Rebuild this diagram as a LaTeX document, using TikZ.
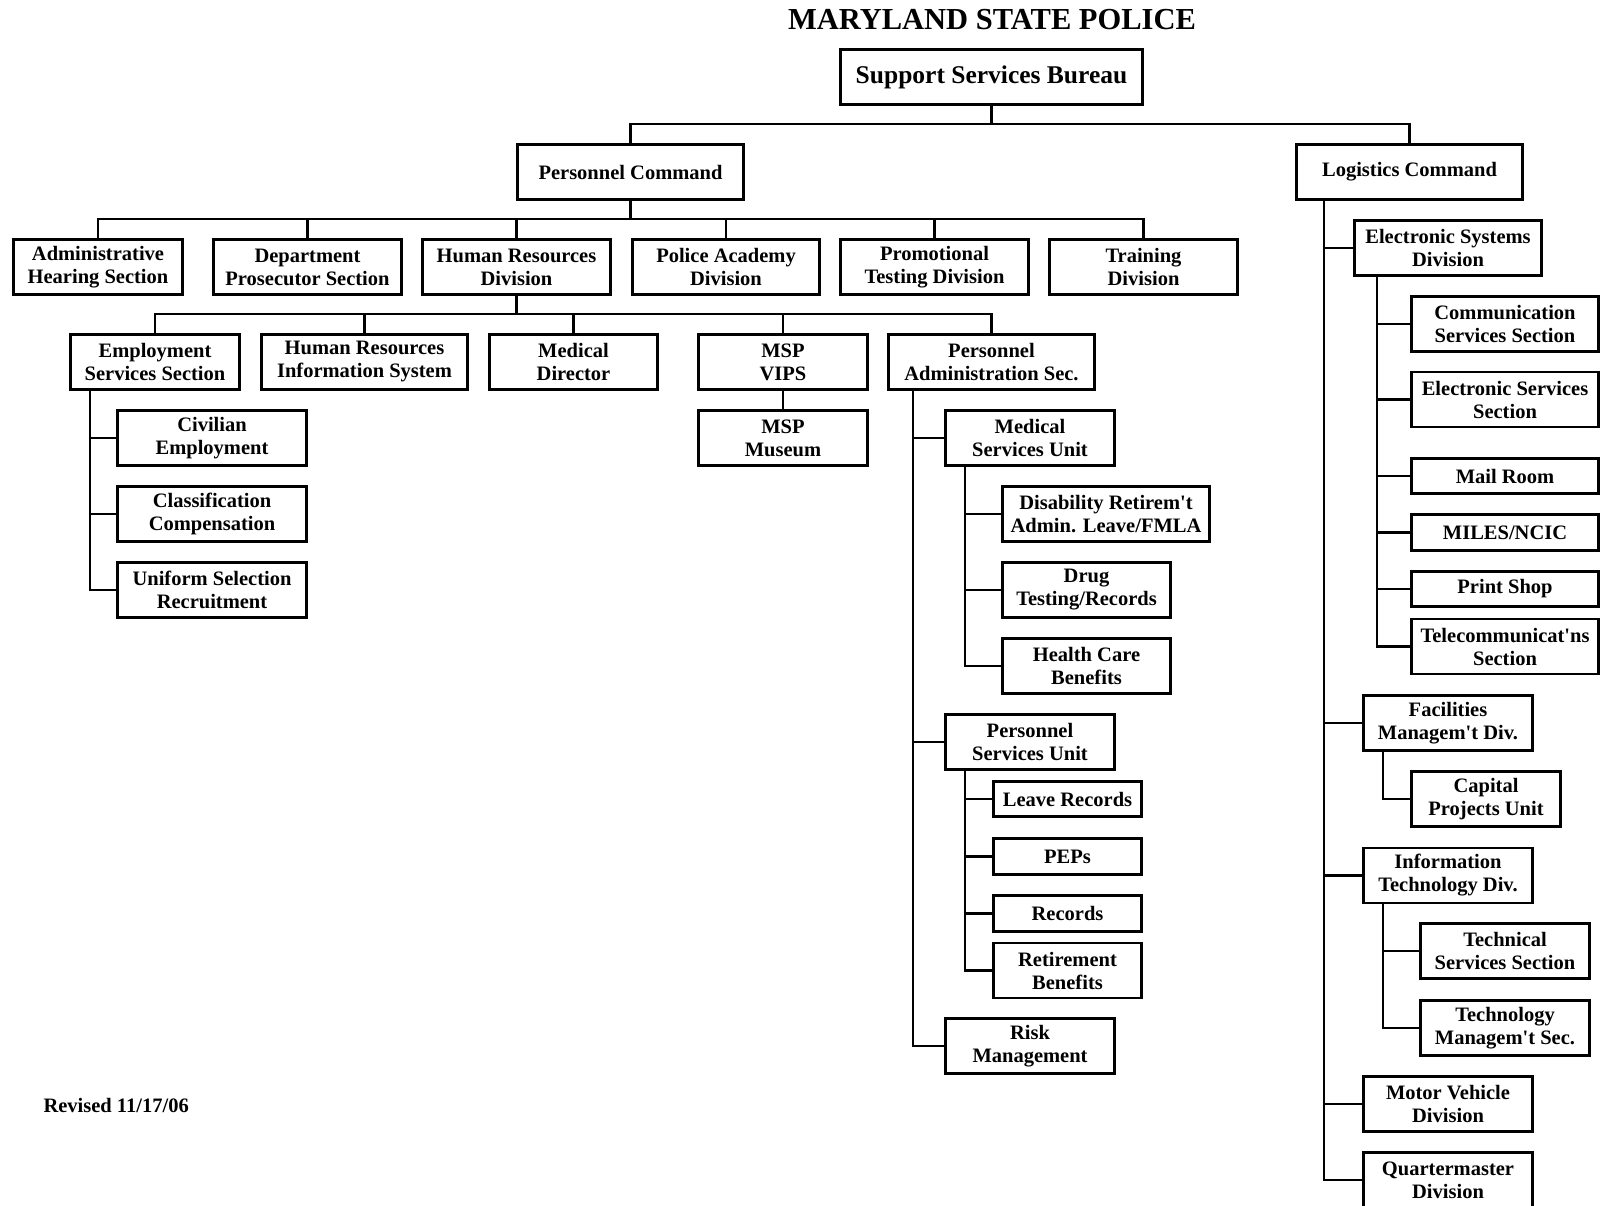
\documentclass[tikz,border=0pt]{standalone}
\usepackage{fontspec}
\setmainfont{Liberation Serif}[Ligatures=TeXOff]
\begin{document}
\begin{tikzpicture}[x=1pt,y=-1pt,
  box/.style={draw,line width=2.6pt,minimum height=55,inner sep=0pt,align=center,font=\bfseries\fontsize{20.5}{23}\selectfont},
  link/.style={line width=2.8pt}]
\useasboundingbox (0,0) rectangle (1601,1206);

\node (title) at (992,20) {\fontsize{30.5}{34}\selectfont\bfseries MARYLAND STATE POLICE};
\node[box,minimum width=302,font=\bfseries\fontsize{25.5}{28}\selectfont] (ssb) at (991.5,77) {Support Services Bureau};

\node[box,minimum width=226] (pc) at (630.5,172) {Personnel Command};
\node[box,minimum width=226] (lc) at (1409.5,172) {Logistics Command};

\node[box,minimum width=169] (ahs) at (98,267) {Administrative\\Hearing Section};
\node[box,minimum width=188] (dps) at (307.5,267) {Department\\Prosecutor Section};
\node[box,minimum width=188] (hrd) at (516.5,267) {Human Resources\\Division};
\node[box,minimum width=187] (pad) at (726,267) {Police Academy\\Division};
\node[box,minimum width=188] (ptd) at (934.5,267) {Promotional\\Testing Division};
\node[box,minimum width=188] (trd) at (1143.5,267) {Training\\Division};

\node[box,minimum width=169] (ess) at (155,362) {Employment\\Services Section};
\node[box,minimum width=206] (hris) at (364.5,362) {Human Resources\\Information System};
\node[box,minimum width=168] (mdir) at (573.5,362) {Medical\\Director};
\node[box,minimum width=169] (vips) at (783,362) {MSP\\VIPS};
\node[box,minimum width=206] (pas) at (991.5,362) {Personnel\\Administration Sec.};

\node[box,minimum width=189] (civ) at (212,438) {Civilian\\Employment};
\node[box,minimum width=189] (cls) at (212,514) {Classification\\Compensation};
\node[box,minimum width=189] (uni) at (212,590) {Uniform Selection\\Recruitment};

\node[box,minimum width=169] (msm) at (783,438) {MSP\\Museum};

\node[box,minimum width=169] (msu) at (1030,438) {Medical\\Services Unit};
\node[box,minimum width=207] (dis) at (1106,514) {Disability Retirem't\\Admin. Leave/FMLA};
\node[box,minimum width=168] (drug) at (1086.5,590) {Drug\\Testing/Records};
\node[box,minimum width=168] (hcb) at (1086.5,666) {Health Care\\Benefits};
\node[box,minimum width=169] (psu) at (1030,742) {Personnel\\Services Unit};
\node[box,minimum width=148,minimum height=35] (leave) at (1067.5,799) {Leave Records};
\node[box,minimum width=148,minimum height=36] (peps) at (1067.5,856.5) {PEPs};
\node[box,minimum width=148,minimum height=36] (recs) at (1067.5,913.5) {Records};
\node[box,minimum width=148] (ret) at (1067.5,970.5) {Retirement\\Benefits};
\node[box,minimum width=169] (risk) at (1030,1046) {Risk\\Management};

\node[box,minimum width=187] (esd) at (1448,248) {Electronic Systems\\Division};
\node[box,minimum width=187] (css) at (1505,324) {Communication\\Services Section};
\node[box,minimum width=187] (elss) at (1505,399.5) {Electronic Services\\Section};
\node[box,minimum width=187,minimum height=35] (mail) at (1505,476) {Mail Room};
\node[box,minimum width=187,minimum height=36] (miles) at (1505,532.5) {MILES/NCIC};
\node[box,minimum width=187,minimum height=35] (print) at (1505,589) {Print Shop};
\node[box,minimum width=187] (tel) at (1505,646.5) {Telecommunicat'ns\\Section};
\node[box,minimum width=169] (fmd) at (1448,723) {Facilities\\Managem't Div.};
\node[box,minimum width=149] (cap) at (1486,799) {Capital\\Projects Unit};
\node[box,minimum width=169] (itd) at (1448,875.5) {Information\\Technology Div.};
\node[box,minimum width=169] (tss) at (1505,951) {Technical\\Services Section};
\node[box,minimum width=169] (tms) at (1505,1028) {Technology\\Managem't Sec.};
\node[box,minimum width=169] (mvd) at (1448,1104) {Motor Vehicle\\Division};
\node[box,minimum width=169] (qmd) at (1448,1180) {Quartermaster\\Division};

\node[anchor=west,font=\bfseries\fontsize{20.5}{23}\selectfont] (rev) at (40,1105) {Revised 11/17/06};

\coordinate (bar1) at (0,124);
\draw[link] (pc.north) |- (bar1 -| lc.north) -- (lc.north);
\draw[link] (ssb.south) -- (ssb.south |- bar1);

\coordinate (bar2) at (0,219);
\draw[link] (ahs.north) |- (bar2 -| trd.north) -- (trd.north);
\draw[link] (pc.south) -- (pc.south |- bar2);
\foreach \n in {dps,hrd,pad,ptd} \draw[link] (\n.north) -- (\n.north |- bar2);

\coordinate (bar3) at (0,314);
\draw[link] (ess.north) |- (bar3 -| pas.north) -- (pas.north);
\draw[link] (hrd.south) -- (hrd.south |- bar3);
\foreach \n in {hris,mdir,vips} \draw[link] (\n.north) -- (\n.north |- bar3);
\draw[link] (vips.south) -- (msm.north);

\coordinate (esst) at (90,0);
\foreach \n in {civ,cls,uni} \draw[link] (esst |- ess.south) |- (\n.west);

\coordinate (past) at (913,0);
\foreach \n in {msu,psu,risk} \draw[link] (past |- pas.south) |- (\n.west);
\coordinate (msut) at (965,0);
\foreach \n in {dis,drug,hcb} \draw[link] (msut |- msu.south) |- (\n.west);
\coordinate (psut) at (965,0);
\foreach \n in {leave,peps,recs,ret} \draw[link] (psut |- psu.south) |- (\n.west);

\coordinate (lct) at (1324,0);
\foreach \n in {esd,fmd,itd,mvd,qmd} \draw[link] (lct |- lc.south) |- (\n.west);
\coordinate (esdt) at (1377,0);
\foreach \n in {css,elss,mail,miles,print,tel} \draw[link] (esdt |- esd.south) |- (\n.west);
\coordinate (fmdt) at (1383,0);
\draw[link] (fmdt |- fmd.south) |- (cap.west);
\coordinate (itdt) at (1383,0);
\foreach \n in {tss,tms} \draw[link] (itdt |- itd.south) |- (\n.west);
\end{tikzpicture}
\end{document}
